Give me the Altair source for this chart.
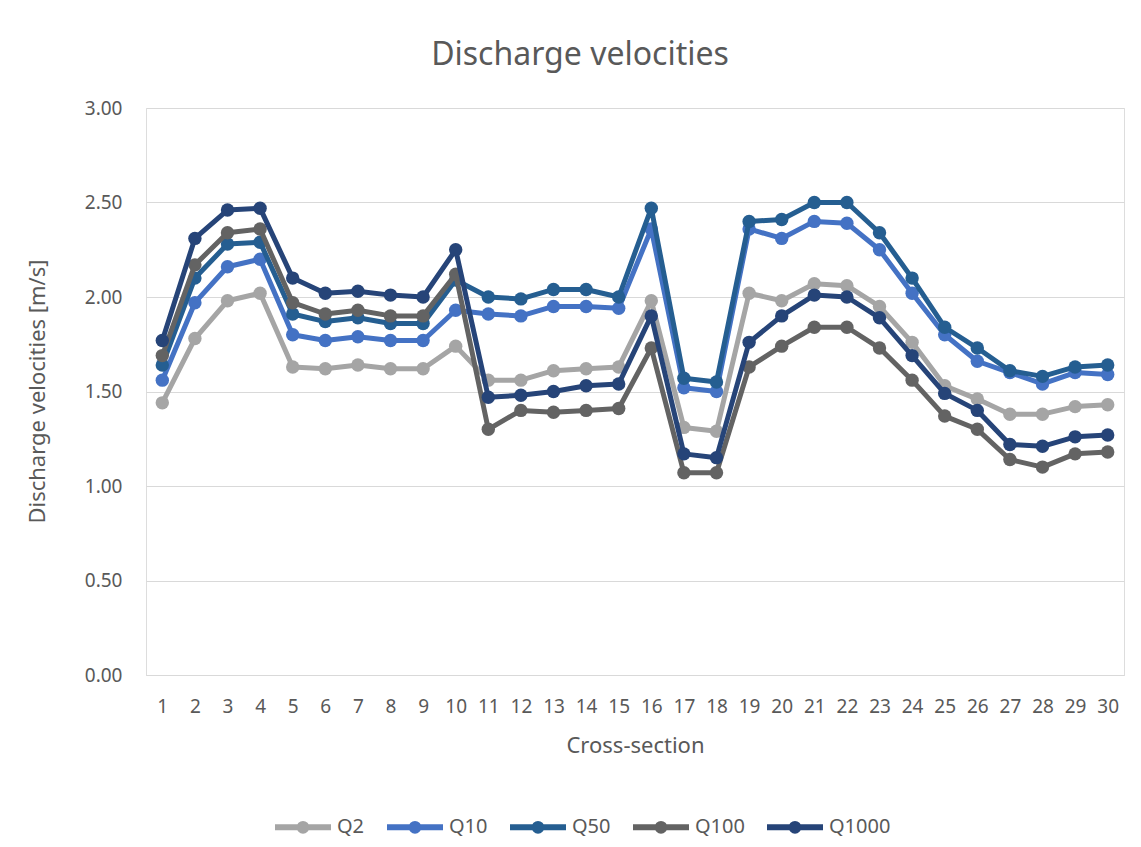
import altair as alt
import pandas as pd

sections = list(range(1, 31))
series_names = ["Q2", "Q10", "Q50", "Q100", "Q1000"]
series_colors = ["#A5A5A5", "#4472C4", "#255E91", "#636363", "#264478"]

q2 = [1.44, 1.78, 1.98, 2.02, 1.63, 1.62, 1.64, 1.62, 1.62, 1.74,
      1.56, 1.56, 1.61, 1.62, 1.63, 1.98, 1.31, 1.29, 2.02, 1.98,
      2.07, 2.06, 1.95, 1.76, 1.53, 1.46, 1.38, 1.38, 1.42, 1.43]
q10 = [1.56, 1.97, 2.16, 2.20, 1.80, 1.77, 1.79, 1.77, 1.77, 1.93,
       1.91, 1.90, 1.95, 1.95, 1.94, 2.36, 1.52, 1.50, 2.36, 2.31,
       2.40, 2.39, 2.25, 2.02, 1.80, 1.66, 1.60, 1.54, 1.60, 1.59]
q50 = [1.64, 2.10, 2.28, 2.29, 1.91, 1.87, 1.89, 1.86, 1.86, 2.09,
       2.00, 1.99, 2.04, 2.04, 2.00, 2.47, 1.57, 1.55, 2.40, 2.41,
       2.50, 2.50, 2.34, 2.10, 1.84, 1.73, 1.61, 1.58, 1.63, 1.64]
q100 = [1.69, 2.17, 2.34, 2.36, 1.97, 1.91, 1.93, 1.90, 1.90, 2.12,
        1.30, 1.40, 1.39, 1.40, 1.41, 1.73, 1.07, 1.07, 1.63, 1.74,
        1.84, 1.84, 1.73, 1.56, 1.37, 1.30, 1.14, 1.10, 1.17, 1.18]
q1000 = [1.77, 2.31, 2.46, 2.47, 2.10, 2.02, 2.03, 2.01, 2.00, 2.25,
         1.47, 1.48, 1.50, 1.53, 1.54, 1.90, 1.17, 1.15, 1.76, 1.90,
         2.01, 2.00, 1.89, 1.69, 1.49, 1.40, 1.22, 1.21, 1.26, 1.27]
y_ticks = [0, 0.5, 1.0, 1.5, 2.0, 2.5, 3.0]

rows = []
for name, vals in zip(series_names, [q2, q10, q50, q100, q1000]):
    for s, v in zip(sections, vals):
        rows.append({"section": s, "series": name, "velocity": v})
df = pd.DataFrame(rows)

FONT = "Noto Sans"
TXT = "#595959"
GRID = "#d9d9d9"
LEGEND_SYMBOL = "M-1,0H1M0.12,0A0.12,0.12,0,1,1,-0.12,0A0.12,0.12,0,1,1,0.12,0Z"

x_enc = alt.X(
    "section:O",
    scale=alt.Scale(type="point", padding=0.5),
    axis=alt.Axis(
        title="Cross-section", labelAngle=0, ticks=False, tickSize=0,
        domain=True, domainColor=GRID, domainWidth=1, grid=False,
        labelPadding=22, labelFont=FONT, labelFontSize=19, labelColor=TXT,
        titleFont=FONT, titleFontSize=22, titleColor=TXT, titleFontWeight="normal",
        titleY=70, titleBaseline="middle",
    ),
)
y_enc = alt.Y(
    "velocity:Q",
    scale=alt.Scale(domain=[0, 3], nice=False, zero=True),
    axis=alt.Axis(
        title="Discharge velocities [m/s]", values=y_ticks, format=".2f",
        grid=True, gridColor=GRID, gridWidth=1, ticks=False, tickSize=0, domain=False,
        labelPadding=24, labelFont=FONT, labelFontSize=19, labelColor=TXT,
        titleFont=FONT, titleFontSize=22, titleColor=TXT, titleFontWeight="normal",
        titleX=-109, titleY=283, titleBaseline="middle",
    ),
)
color_enc = alt.Color(
    "series:N",
    scale=alt.Scale(domain=series_names, range=series_colors),
    legend=alt.Legend(
        orient="none", legendX=126, legendY=688, direction="horizontal",
        title=None, symbolType=LEGEND_SYMBOL, symbolSize=3136,
        symbolStrokeWidth=6, labelFont=FONT, labelFontSize=20,
        labelColor=TXT, columnPadding=10, labelOffset=3,
    ),
)

layers = []
for name in series_names:
    base = alt.Chart(df).transform_filter(alt.datum.series == name).encode(
        x=x_enc, y=y_enc, color=color_enc
    )
    layers.append(base.mark_line(strokeWidth=5, strokeJoin="round", strokeCap="round"))
    layers.append(base.mark_circle(size=180, opacity=1))

chart = alt.layer(*layers).properties(
    width=978,
    height=567,
    padding={"left": 138, "top": 100, "right": 9, "bottom": 170},
    autosize=alt.AutoSizeParams(type="none"),
    title=alt.TitleParams(
        "Discharge velocities", font=FONT, fontSize=32, color=TXT,
        fontWeight="normal", anchor="middle", dx=-55, offset=27,
    ),
).configure_view(stroke=None).configure(background="white")

chart.save("out.html", embed_options={"renderer": "svg", "actions": False})
